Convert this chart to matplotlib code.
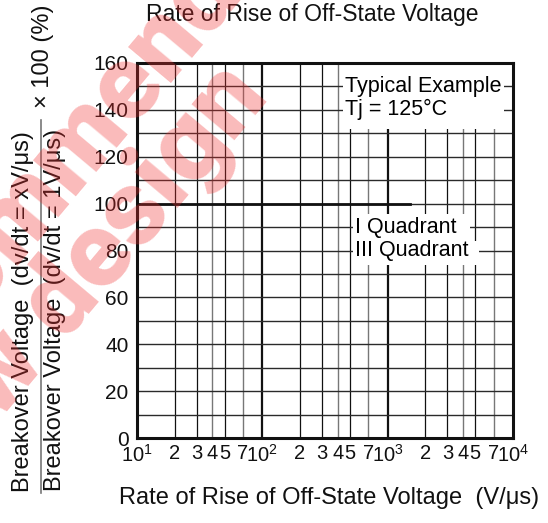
import numpy as np
import matplotlib.pyplot as plt
from matplotlib.patches import Rectangle
from matplotlib.lines import Line2D

plt.rcParams['font.family'] = ['Liberation Sans', 'DejaVu Sans']
plt.rcParams['mathtext.fontset'] = 'custom'
plt.rcParams['mathtext.rm'] = 'Liberation Sans'
plt.rcParams['mathtext.it'] = 'Liberation Sans'

# data
dvdt = [10, 1500]          # V/us
ratio = [100, 100]         # %
decades = [10, 100, 1000]
mults = [1, 2, 3, 4, 5, 7]
gray_mults = [4, 7]
xtick_vals = [d * m for d in decades for m in mults] + [10000]
xtick_labels = []
for d in decades:
    xtick_labels += [r'$10^{%d}$' % int(np.log10(d)), '2', '3', '4', '5', '7']
xtick_labels += [r'$10^{4}$']
ytick_vals = list(range(0, 161, 20))
yline_vals = list(range(10, 160, 10))

fs_tick = 14.5
fs_in = 15.5
fs_lab = 17
fig = plt.figure(figsize=(5.48, 5.23), dpi=100)
ax = fig.add_axes([137/548, 1-438/523, 376/548, 375/523])
ax.set_xscale('log')
ax.set_xlim(10, 10000)
ax.set_ylim(0, 160)

# grid
for d in decades:
    for m in mults:
        v = d * m
        if v == 10:
            continue
        if m == 1:
            ax.axvline(v, color='#111111', lw=1.6, zorder=1)
        elif m in gray_mults:
            ax.axvline(v, color='#777777', lw=1.0, zorder=1)
        else:
            ax.axvline(v, color='#111111', lw=0.9, zorder=1)
for v in yline_vals:
    ax.axhline(v, color='#2a2a2a', lw=1.0, zorder=1)

ax.plot(dvdt, ratio, color='#111111', lw=2.0, zorder=3)

# label boxes
ax.add_patch(Rectangle((10**2.645, 131.8), 10**3.93 - 10**2.645, 28.2,
                       fc='white', ec='none', zorder=4))
ax.text(10**2.66, 150, 'Typical Example', fontsize=fs_in, va='center', ha='left', zorder=5)
ax.text(10**2.66, 140, 'Tj = 125°C', fontsize=fs_in, va='center', ha='left', zorder=5)

ax.add_patch(Rectangle((10**2.727, 74.0), 10**3.655 - 10**2.727, 21.5,
                       fc='white', ec='none', zorder=4))
ax.add_patch(Rectangle((10**2.727, 74.0), 10**3.73 - 10**2.727, 10.0,
                       fc='white', ec='none', zorder=4))
ax.text(10**2.74, 90, 'I Quadrant', fontsize=fs_in, va='center', ha='left', zorder=5)
ax.text(10**2.74, 80, 'III Quadrant', fontsize=fs_in, va='center', ha='left', zorder=5)

ax.set_xticks(xtick_vals)
ax.set_xticklabels(xtick_labels)
ax.xaxis.set_minor_locator(plt.NullLocator())
ax.set_yticks(ytick_vals)
ax.tick_params(axis='both', length=0, labelsize=fs_tick, colors='#111111')
ax.tick_params(axis='y', labelsize=15)
ax.tick_params(axis='x', pad=4)
ax.tick_params(axis='y', pad=6)
for s in ax.spines.values():
    s.set_linewidth(2.2)
    s.set_color('#111111')
    s.set_zorder(6)

# titles and labels
fig.text(312/548, 1-14/523, 'Rate of Rise of Off-State Voltage', fontsize=16.5,
         ha='center', va='center', color='#111111')
fig.text(329/548, 1-498/523, 'Rate of Rise of Off-State Voltage  (V/μs)', fontsize=fs_lab,
         ha='center', va='center', color='#111111')
fig.text(23/548, 1-312/523, 'Breakover Voltage  (dv/dt = xV/μs)', fontsize=fs_lab,
         rotation=90, ha='center', va='center', color='#111111')
fig.text(55/548, 1-310/523, 'Breakover Voltage  (dv/dt = 1V/μs)', fontsize=fs_lab,
         rotation=90, ha='center', va='center', color='#111111')
fig.add_artist(Line2D([40.5/548, 40.5/548], [1-120/523, 1-493/523],
                      color='#777777', lw=1.2))
fig.text(43/548, 1-56/523, '× 100 (%)', fontsize=fs_lab,
         rotation=90, ha='center', va='center', color='#111111')

# watermark
wm = dict(fontsize=76, fontweight='black', family=['Roboto', 'Liberation Sans'],
          color='#f03030', alpha=0.33,
          rotation=50, rotation_mode='anchor', zorder=10)
fig.text(320/548, 1-(-94)/523, 'Not recommended', ha='right', va='baseline', **wm)
fig.text(270/548, 1-98/523, 'for new design', ha='right', va='baseline', **wm)

fig.savefig('out.png', dpi=100)
